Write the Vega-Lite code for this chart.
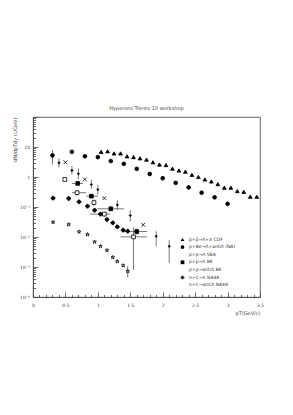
{
  "$schema": "https://vega.github.io/schema/vega-lite/v6.json",
  "width": 227,
  "height": 180,
  "autosize": "none",
  "padding": {"left": 33, "top": 117, "right": 33, "bottom": 118},
  "background": "white",
  "title": {"text": "Hyperons Trento 10 workshop", "fontSize": 5, "font": "DejaVu Sans", "fontWeight": "normal", "color": "#444", "offset": 3},
  "config": {"view": {"stroke": "#444", "strokeWidth": 0.8}},
  "data": {"values": [
    {"s": "p+p̄→Λ+X  CDF", "x": 1.05, "y": 6.9},
    {"s": "p+p̄→Λ+X  CDF", "x": 1.15, "y": 7.2},
    {"s": "p+p̄→Λ+X  CDF", "x": 1.25, "y": 6.1},
    {"s": "p+p̄→Λ+X  CDF", "x": 1.35, "y": 6.1},
    {"s": "p+p̄→Λ+X  CDF", "x": 1.45, "y": 4.9},
    {"s": "p+p̄→Λ+X  CDF", "x": 1.55, "y": 4.6},
    {"s": "p+p̄→Λ+X  CDF", "x": 1.65, "y": 4.2},
    {"s": "p+p̄→Λ+X  CDF", "x": 1.75, "y": 3.8},
    {"s": "p+p̄→Λ+X  CDF", "x": 1.85, "y": 3.1},
    {"s": "p+p̄→Λ+X  CDF", "x": 1.95, "y": 2.6},
    {"s": "p+p̄→Λ+X  CDF", "x": 2.05, "y": 2.5},
    {"s": "p+p̄→Λ+X  CDF", "x": 2.15, "y": 1.9},
    {"s": "p+p̄→Λ+X  CDF", "x": 2.25, "y": 1.65},
    {"s": "p+p̄→Λ+X  CDF", "x": 2.35, "y": 1.5},
    {"s": "p+p̄→Λ+X  CDF", "x": 2.45, "y": 1.18},
    {"s": "p+p̄→Λ+X  CDF", "x": 2.55, "y": 1.0},
    {"s": "p+p̄→Λ+X  CDF", "x": 2.65, "y": 0.83},
    {"s": "p+p̄→Λ+X  CDF", "x": 2.75, "y": 0.71},
    {"s": "p+p̄→Λ+X  CDF", "x": 2.85, "y": 0.58},
    {"s": "p+p̄→Λ+X  CDF", "x": 2.95, "y": 0.44},
    {"s": "p+p̄→Λ+X  CDF", "x": 3.05, "y": 0.44},
    {"s": "p+p̄→Λ+X  CDF", "x": 3.15, "y": 0.34},
    {"s": "p+p̄→Λ+X  CDF", "x": 3.25, "y": 0.32},
    {"s": "p+p̄→Λ+X  CDF", "x": 3.35, "y": 0.22},
    {"s": "p+p̄→Λ+X  CDF", "x": 3.45, "y": 0.22},
    {"s": "p+Be→Λ+antiΛ (NA)", "x": 0.3, "y": 5.3, "ylo": 2.6, "yhi": 8},
    {"s": "p+Be→Λ+antiΛ (NA)", "x": 0.6, "y": 6.9},
    {"s": "p+Be→Λ+antiΛ (NA)", "x": 0.8, "y": 4.9},
    {"s": "p+Be→Λ+antiΛ (NA)", "x": 1.0, "y": 4.6},
    {"s": "p+Be→Λ+antiΛ (NA)", "x": 1.2, "y": 3.4},
    {"s": "p+Be→Λ+antiΛ (NA)", "x": 1.4, "y": 2.75},
    {"s": "p+Be→Λ+antiΛ (NA)", "x": 1.6, "y": 1.88},
    {"s": "p+Be→Λ+antiΛ (NA)", "x": 1.8, "y": 1.26},
    {"s": "p+Be→Λ+antiΛ (NA)", "x": 2.0, "y": 0.91},
    {"s": "p+Be→Λ+antiΛ (NA)", "x": 2.2, "y": 0.64},
    {"s": "p+Be→Λ+antiΛ (NA)", "x": 2.4, "y": 0.45},
    {"s": "p+Be→Λ+antiΛ (NA)", "x": 2.6, "y": 0.30},
    {"s": "p+Be→Λ+antiΛ (NA)", "x": 2.8, "y": 0.21},
    {"s": "p+Be→Λ+antiΛ (NA)", "x": 3.0, "y": 0.128},
    {"s": "p+p→Λ  SBA", "x": 0.5, "y": 3.1},
    {"s": "p+p→Λ  SBA", "x": 0.8, "y": 0.83},
    {"s": "p+p→Λ  SBA", "x": 1.1, "y": 0.197},
    {"s": "p+p→Λ  SBA", "x": 1.7, "y": 0.0255},
    {"s": "p+p→Λ  BK", "x": 0.69, "y": 0.61, "xlo": 0.6, "xhi": 0.77},
    {"s": "p+p→Λ  BK", "x": 0.9, "y": 0.23, "xlo": 0.82, "xhi": 1.0},
    {"s": "p+p→Λ  BK", "x": 1.2, "y": 0.087, "xlo": 0.99, "xhi": 1.4, "ylo": 0.072, "yhi": 0.105},
    {"s": "p+p→Λ  BK", "x": 1.6, "y": 0.0152, "xlo": 1.37, "xhi": 1.76, "ylo": 0.012, "yhi": 0.019},
    {"s": "p+p→antiΛ  BK", "x": 0.49, "y": 0.83},
    {"s": "p+p→antiΛ  BK", "x": 0.68, "y": 0.30, "xlo": 0.6, "xhi": 0.82, "ylo": 0.24, "yhi": 0.36},
    {"s": "p+p→antiΛ  BK", "x": 0.94, "y": 0.14, "ylo": 0.11, "yhi": 0.18},
    {"s": "p+p→antiΛ  BK", "x": 1.1, "y": 0.058, "xlo": 0.88, "xhi": 1.19, "ylo": 0.047, "yhi": 0.07},
    {"s": "p+p→antiΛ  BK", "x": 1.55, "y": 0.0101, "xlo": 1.35, "xhi": 1.76, "ylo": 0.0008, "yhi": 0.021},
    {"s": "n+C→Λ  NA48", "x": 0.31, "y": 0.197},
    {"s": "n+C→Λ  NA48", "x": 0.55, "y": 0.192},
    {"s": "n+C→Λ  NA48", "x": 0.71, "y": 0.149},
    {"s": "n+C→Λ  NA48", "x": 0.84, "y": 0.106},
    {"s": "n+C→Λ  NA48", "x": 0.95, "y": 0.078},
    {"s": "n+C→Λ  NA48", "x": 1.04, "y": 0.0575},
    {"s": "n+C→Λ  NA48", "x": 1.14, "y": 0.0383},
    {"s": "n+C→Λ  NA48", "x": 1.23, "y": 0.0297},
    {"s": "n+C→Λ  NA48", "x": 1.3, "y": 0.0219},
    {"s": "n+C→Λ  NA48", "x": 1.39, "y": 0.0169},
    {"s": "n+C→Λ  NA48", "x": 1.46, "y": 0.0156},
    {"s": "n+C→antiΛ  NA48", "x": 0.31, "y": 0.0311},
    {"s": "n+C→antiΛ  NA48", "x": 0.55, "y": 0.0261},
    {"s": "n+C→antiΛ  NA48", "x": 0.71, "y": 0.0149},
    {"s": "n+C→antiΛ  NA48", "x": 0.84, "y": 0.0121},
    {"s": "n+C→antiΛ  NA48", "x": 0.95, "y": 0.0069},
    {"s": "n+C→antiΛ  NA48", "x": 1.04, "y": 0.0049},
    {"s": "n+C→antiΛ  NA48", "x": 1.14, "y": 0.0036},
    {"s": "n+C→antiΛ  NA48", "x": 1.23, "y": 0.0021},
    {"s": "n+C→antiΛ  NA48", "x": 1.3, "y": 0.00153},
    {"s": "n+C→antiΛ  NA48", "x": 1.39, "y": 0.00112},
    {"s": "n+C→antiΛ  NA48", "x": 1.46, "y": 0.00072, "ylo": 0.00045, "yhi": 0.00105},
    {"s": "other", "x": 0.4, "y": 2.97, "ylo": 2.1, "yhi": 4.2},
    {"s": "other", "x": 0.6, "y": 1.65, "ylo": 1.2, "yhi": 2.3},
    {"s": "other", "x": 0.7, "y": 1.28, "ylo": 0.85, "yhi": 1.9},
    {"s": "other", "x": 0.9, "y": 0.56, "ylo": 0.4, "yhi": 0.8},
    {"s": "other", "x": 1.0, "y": 0.38, "ylo": 0.26, "yhi": 0.55},
    {"s": "other", "x": 1.3, "y": 0.117, "ylo": 0.08, "yhi": 0.17},
    {"s": "other", "x": 1.5, "y": 0.052, "ylo": 0.033, "yhi": 0.08},
    {"s": "other", "x": 1.9, "y": 0.0106, "ylo": 0.0049, "yhi": 0.0156},
    {"s": "other", "x": 2.1, "y": 0.0049, "ylo": 0.00138, "yhi": 0.0078}
  ]},
  "layer": [
    {
      "transform": [{"filter": "isValid(datum.ylo)"}],
      "mark": {"type": "rule", "color": "#555", "strokeWidth": 0.8},
      "encoding": {
        "x": {"field": "x", "type": "quantitative", "scale": {"domain": [0, 3.5], "nice": false, "zero": false},
          "axis": {"values": [0,0.1,0.2,0.3,0.4,0.5,0.6,0.7,0.8,0.9,1,1.1,1.2,1.3,1.4,1.5,1.6,1.7,1.8,1.9,2,2.1,2.2,2.3,2.4,2.5,2.6,2.7,2.8,2.9,3,3.1,3.2,3.3,3.4,3.5],
            "tickCount": 200,
            "labelExpr": "indexof(['0','0.5','1','1.5','2','2.5','3','3.5'], '' + datum.value) >= 0 ? '' + datum.value : ''",
            "title": "pT(GeV/c)", "titleAnchor": "end", "titleFontSize": 5, "titleFontWeight": "normal", "titleFont": "DejaVu Sans", "titleColor": "#444", "titlePadding": 1,
            "labelFontSize": 4.5, "labelFont": "DejaVu Sans", "labelColor": "#444", "labelPadding": 10, "labelFlush": false, "labelOverlap": false, "labelSeparation": -1000,
            "tickSize": {"condition": {"test": "indexof(['0','0.5','1','1.5','2','2.5','3','3.5'], '' + datum.value) >= 0", "value": -5}, "value": -2.5},
            "tickColor": "#444", "tickWidth": 0.8, "domainColor": "#444", "domainWidth": 0.8, "grid": false}},
        "y": {"field": "ylo", "type": "quantitative", "scale": {"type": "log", "domain": [0.0001, 100], "nice": false},
          "axis": {"values": [0.0001,0.0002,0.0003,0.0004,0.0005,0.0006,0.0007,0.0008,0.0009,0.001,0.002,0.003,0.004,0.005,0.006,0.007,0.008,0.009,0.01,0.02,0.03,0.04,0.05,0.06,0.07,0.08,0.09,0.1,0.2,0.3,0.4,0.5,0.6,0.7,0.8,0.9,1,2,3,4,5,6,7,8,9,10,20,30,40,50,60,70,80,90,100],
            "labelExpr": "abs(log(datum.value)/LN10 - round(log(datum.value)/LN10)) > 0.001 ? '' : (round(log(datum.value)/LN10) == 0 ? '1' : round(log(datum.value)/LN10) == 1 ? '10' : round(log(datum.value)/LN10) == 2 ? '' : '10⁻' + ['', '¹', '²', '³', '⁴'][-round(log(datum.value)/LN10)])",
            "title": "dN/dpTdy (c/GeV)", "titleAnchor": "end", "titleFontSize": 5, "titleFontWeight": "normal", "titleFont": "DejaVu Sans", "titleColor": "#444", "titlePadding": 2,
            "labelFontSize": 4.5, "labelFont": "DejaVu Sans", "labelColor": "#444", "labelPadding": 8.5, "labelFlush": false, "labelOverlap": false,
            "tickSize": {"condition": {"test": "abs(log(datum.value)/LN10 - round(log(datum.value)/LN10)) < 0.001", "value": -5}, "value": -2.5},
            "tickColor": "#444", "tickWidth": 0.8, "domainColor": "#444", "domainWidth": 0.8, "grid": false}},
        "y2": {"field": "yhi"}
      }
    },
    {
      "transform": [{"filter": "isValid(datum.xlo)"}],
      "mark": {"type": "rule", "color": "#555", "strokeWidth": 0.8},
      "encoding": {
        "x": {"field": "xlo", "type": "quantitative"},
        "x2": {"field": "xhi"},
        "y": {"field": "y", "type": "quantitative"}
      }
    },
    {
      "mark": {"type": "point", "filled": true, "size": 14, "stroke": "black", "strokeWidth": 0.8, "opacity": 1},
      "encoding": {
        "x": {"field": "x", "type": "quantitative"},
        "y": {"field": "y", "type": "quantitative"},
        "shape": {"field": "s", "type": "nominal",
          "scale": {"domain": ["p+p̄→Λ+X  CDF", "p+Be→Λ+antiΛ (NA)", "p+p→Λ  SBA", "p+p→Λ  BK", "p+p→antiΛ  BK", "n+C→Λ  NA48", "n+C→antiΛ  NA48", "other"],
            "range": ["triangle-up", "circle", "M-1,-1L1,1M1,-1L-1,1", "square", "square", "cross", "M0,-1L0.225,-0.31L0.95,-0.31L0.36,0.12L0.59,0.81L0,0.38L-0.59,0.81L-0.36,0.12L-0.95,-0.31L-0.225,-0.31Z", "M-0.6,0L0,-0.6L0.6,0L0,0.6Z"]},
          "legend": {"orient": "none", "legendX": 147, "legendY": 120, "title": null, "values": ["p+p̄→Λ+X  CDF", "p+Be→Λ+antiΛ (NA)", "p+p→Λ  SBA", "p+p→Λ  BK", "p+p→antiΛ  BK", "n+C→Λ  NA48", "n+C→antiΛ  NA48"],
            "labelFontSize": 4.5, "labelFont": "DejaVu Sans", "labelColor": "#333", "symbolSize": 14, "symbolStrokeColor": "black", "symbolStrokeWidth": 0.8, "rowPadding": 0.6, "labelOffset": 4, "padding": 0}},
        "fill": {"field": "s", "type": "nominal",
          "scale": {"domain": ["p+p̄→Λ+X  CDF", "p+Be→Λ+antiΛ (NA)", "p+p→Λ  SBA", "p+p→Λ  BK", "p+p→antiΛ  BK", "n+C→Λ  NA48", "n+C→antiΛ  NA48", "other"],
            "range": ["black", "black", "black", "black", "white", "black", "white", "black"]},
          "legend": {"orient": "none", "legendX": 147, "legendY": 120, "title": null, "values": ["p+p̄→Λ+X  CDF", "p+Be→Λ+antiΛ (NA)", "p+p→Λ  SBA", "p+p→Λ  BK", "p+p→antiΛ  BK", "n+C→Λ  NA48", "n+C→antiΛ  NA48"],
            "labelFontSize": 4.5, "labelFont": "DejaVu Sans", "labelColor": "#333", "symbolSize": 14, "symbolStrokeColor": "black", "symbolStrokeWidth": 0.8, "rowPadding": 0.6, "labelOffset": 4, "padding": 0}}
      }
    }
  ]
}
